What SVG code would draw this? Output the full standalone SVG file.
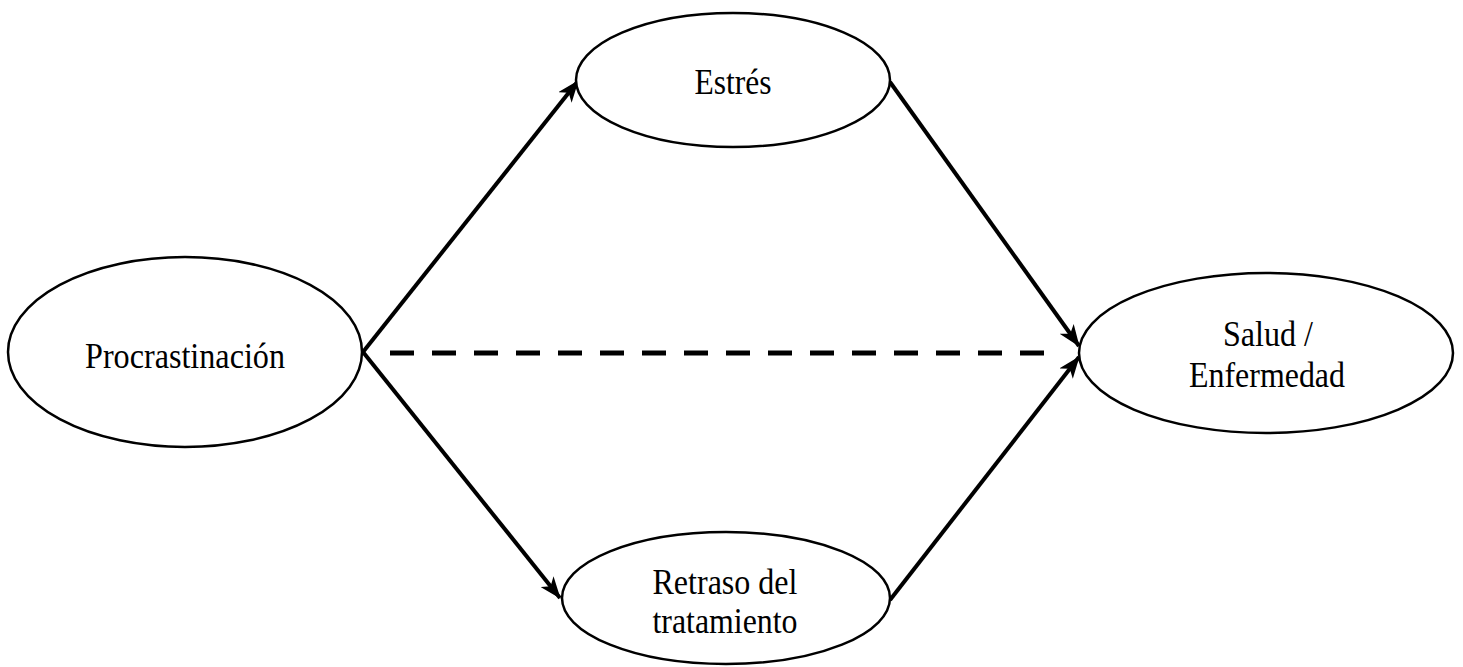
<svg xmlns="http://www.w3.org/2000/svg" width="1463" height="667" viewBox="0 0 1463 667">
  <style>
    .node ellipse { fill: #ffffff; stroke: #000000; stroke-width: 2.5; }
    .node text { font-family: "Liberation Serif", "Times New Roman", serif; font-size: 35px; fill: #000000; text-anchor: middle; }
    .edge { stroke: #000000; stroke-width: 4; fill: none; }
    .dashed { stroke: #000000; stroke-width: 5; stroke-dasharray: 24 18; fill: none; }
  </style>
  <defs>
    <marker id="arrow" viewBox="0 0 22 17" refX="21" refY="8.5" markerWidth="22" markerHeight="17" markerUnits="userSpaceOnUse" orient="auto">
      <path d="M0,0 L22,8.5 L0,17 L6,8.5 Z" fill="#000000"/>
    </marker>
  </defs>
  <rect width="1463" height="667" fill="#ffffff"/>

  <g id="connectors">
    <line class="edge" x1="363" y1="352" x2="578" y2="81" marker-end="url(#arrow)"/>
    <line class="edge" x1="363" y1="352" x2="560" y2="598" marker-end="url(#arrow)"/>
    <line class="edge" x1="890" y1="82" x2="1079" y2="346" marker-end="url(#arrow)"/>
    <line class="edge" x1="890" y1="600" x2="1079" y2="357" marker-end="url(#arrow)"/>
    <line class="dashed" x1="390" y1="353" x2="1044" y2="353"/>
  </g>

  <g id="procrastinacion" class="node">
    <ellipse cx="185" cy="352" rx="177" ry="95"/>
    <text x="185" y="368" textLength="200" lengthAdjust="spacingAndGlyphs">Procrastinación</text>
  </g>

  <g id="estres" class="node">
    <ellipse cx="733" cy="80" rx="157" ry="67"/>
    <text x="733" y="94" textLength="77" lengthAdjust="spacingAndGlyphs">Estrés</text>
  </g>

  <g id="retraso" class="node">
    <ellipse cx="726" cy="598" rx="164" ry="66"/>
    <text x="725" y="594" textLength="145" lengthAdjust="spacingAndGlyphs">Retraso del</text>
    <text x="725" y="633" textLength="145" lengthAdjust="spacingAndGlyphs">tratamiento</text>
  </g>

  <g id="salud" class="node">
    <ellipse cx="1266" cy="353" rx="187" ry="80"/>
    <text x="1268" y="346" textLength="90" lengthAdjust="spacingAndGlyphs">Salud /</text>
    <text x="1267" y="387" textLength="156" lengthAdjust="spacingAndGlyphs">Enfermedad</text>
  </g>
</svg>
